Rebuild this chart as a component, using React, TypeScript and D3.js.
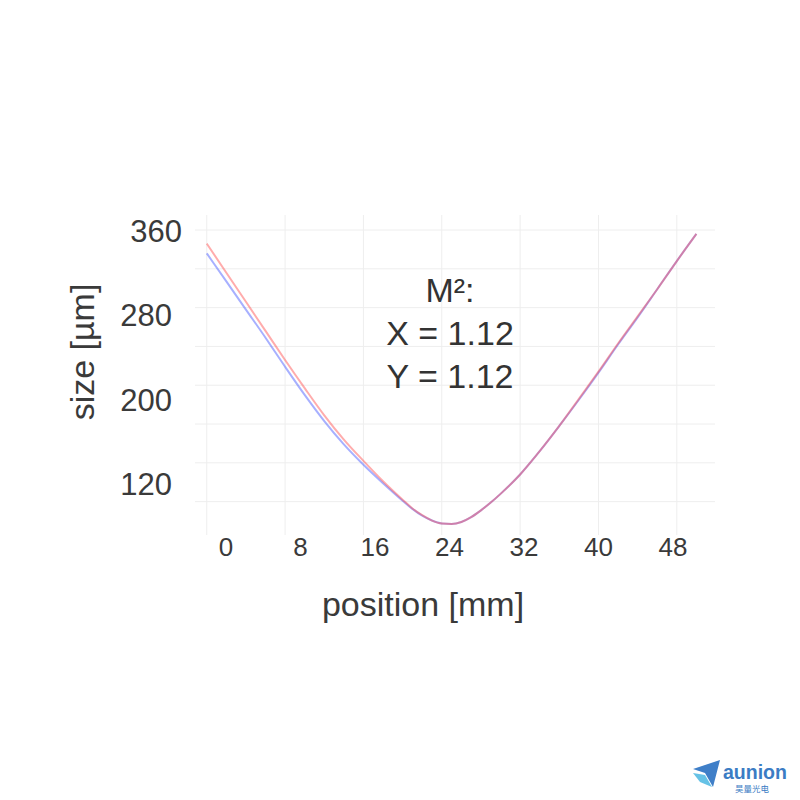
import React from "react";
import * as d3 from "d3";

// ---- data ----
const positions = [0, 2, 4, 6, 8, 10, 12, 14, 16, 18, 20, 21, 22, 23, 24, 25, 26, 27, 28, 29, 30, 32, 34, 36, 38, 40, 42, 44, 46, 48, 50];
const sizeX = [346, 316, 286, 256, 226, 197, 169, 144, 122, 101, 82, 73, 66, 60.5, 57.5, 57, 59, 64, 71, 79, 88, 108, 132, 158, 186, 214, 243, 271, 299, 328, 356];
const sizeY = [336, 307, 278, 249, 219, 190, 163, 139, 118, 99, 81, 72.5, 65.5, 60.5, 57.5, 57, 59, 64, 71, 79, 88, 108, 132, 158, 185, 213, 242, 270, 299, 328, 356];
const xTicks = [0, 8, 16, 24, 32, 40, 48];
const yGrid = [80, 120, 160, 200, 240, 280, 320, 360];
const yTickLabels = [120, 200, 280, 360];
const annotation = ["M²:", "X = 1.12", "Y = 1.12"];

const W = 800;
const H = 800;

export default function App() {
  const x = d3.scaleLinear().domain([-1.2, 51.9]).range([195, 715]);
  const y = d3.scaleLinear().domain([45.6, 375.5]).range([535, 215]);
  // label placement scales (tick labels are offset from grid in the original)
  const xLab = d3.scaleLinear().domain([0, 48]).range([226, 673]);
  const yLab = d3.scaleLinear().domain([120, 360]).range([484, 231]);

  const line = d3
    .line<number>()
    .x((_, i) => x(positions[i]))
    .y((d) => y(d))
    .curve(d3.curveMonotoneX);

  const font = "'Liberation Sans', Arial, sans-serif";
  const txt = "#3a3a3a";

  return (
    <svg
      width={W}
      height={H}
      viewBox={`0 0 ${W} ${H}`}
      style={{ position: "absolute", left: 0, top: 0, background: "#fff" }}
      fontFamily={font}
    >
      {/* grid */}
      <g stroke="#eeeeee" strokeWidth={1}>
        {yGrid.map((v) => (
          <line key={"h" + v} x1={195} x2={715} y1={y(v)} y2={y(v)} />
        ))}
        {xTicks.map((v) => (
          <line key={"v" + v} x1={x(v)} x2={x(v)} y1={215} y2={535} />
        ))}
      </g>

      {/* curves */}
      <path d={line(sizeY) || ""} fill="none" stroke="rgba(60,80,255,0.45)" strokeWidth={2} />
      <path d={line(sizeX) || ""} fill="none" stroke="rgba(255,70,70,0.45)" strokeWidth={2} />

      {/* x tick labels */}
      {xTicks.map((v) => (
        <text key={"xl" + v} x={xLab(v)} y={556} fontSize={26} textAnchor="middle" fill={txt}>
          {v}
        </text>
      ))}
      {/* y tick labels */}
      {yTickLabels.map((v) => (
        <text key={"yl" + v} x={v === 360 ? 182 : 172} y={yLab(v) + 11} fontSize={31} textAnchor="end" fill={txt}>
          {v}
        </text>
      ))}

      {/* axis titles */}
      <text x={423} y={616} fontSize={34} textAnchor="middle" fill={txt}>
        position [mm]
      </text>
      <text
        transform={`translate(94,352) rotate(-90)`}
        fontSize={34}
        textAnchor="middle"
        fill={txt}
      >
        size [µm]
      </text>

      {/* annotation */}
      {annotation.map((s, i) => (
        <text key={s} x={450} y={301.6 + i * 43} fontSize={34} textAnchor="middle" fill="#333">
          {s}
        </text>
      ))}

      {/* logo */}
      <g>
        <polygon points="693,769 720,760 713,787 705,773" fill="#3f7fc8" />
        <polygon points="693,773 705,775 712,787 700,782" fill="#66c2e6" />
        <text x={723} y={779} fontSize={19.5} fontWeight="bold" fill="#3b7cc4">
          aunion
        </text>
        <text x={735} y={792} fontSize={8.5} fill="#3b7cc4" fontFamily="'Noto Sans CJK SC', sans-serif">
          昊量光电
        </text>
      </g>
    </svg>
  );
}
